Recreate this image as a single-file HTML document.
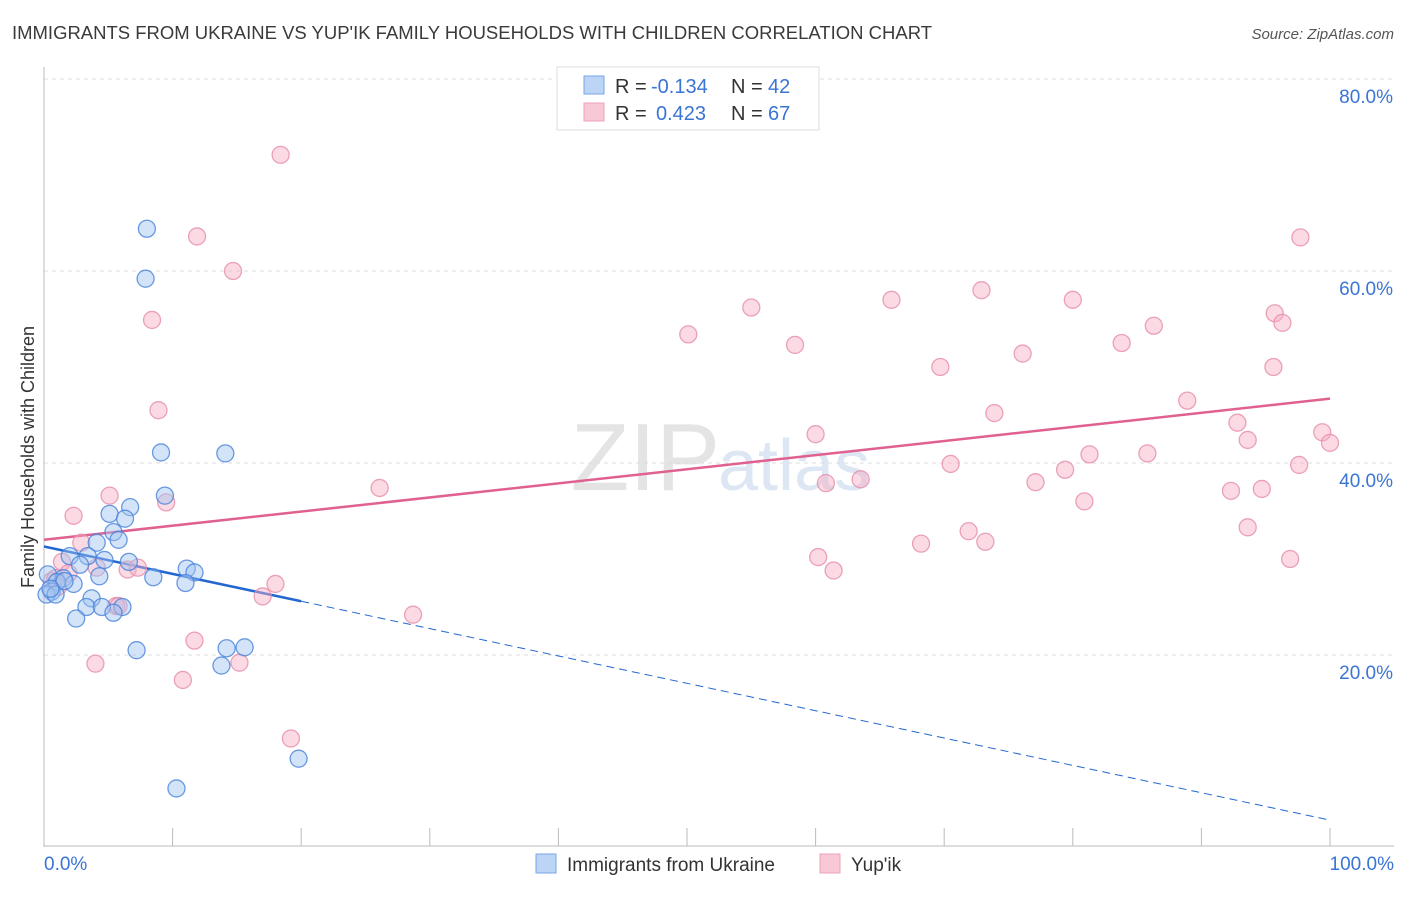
<!DOCTYPE html>
<html><head><meta charset="utf-8"><style>
body{margin:0;background:#fff;font-family:"Liberation Sans",sans-serif}
svg text{font-family:"Liberation Sans",sans-serif}
</style></head><body>
<svg id="chart" width="1406" height="892" xmlns="http://www.w3.org/2000/svg">
<text x="12" y="39" font-size="18" fill="#3a3a3a" textLength="920" lengthAdjust="spacingAndGlyphs">IMMIGRANTS FROM UKRAINE VS YUP'IK FAMILY HOUSEHOLDS WITH CHILDREN CORRELATION CHART</text>
<text x="1394" y="39" font-size="15" fill="#555" font-style="italic" text-anchor="end">Source: ZipAtlas.com</text>
<text transform="translate(34,457) rotate(-90)" font-size="18" fill="#333" text-anchor="middle">Family Households with Children</text>
<text x="720" y="490" font-size="96" fill="#e4e4e4" text-anchor="end" font-family="Liberation Serif">ZIP</text>
<text x="718" y="490" font-size="72" fill="#dde6f3">atlas</text>
<g id="grid"></g><g id="axes"></g><g id="lines"></g><g id="pts"></g>
<g>
<rect x="557" y="67" width="262" height="63" fill="#fff" stroke="#ddd"/>
<rect x="584" y="76" width="20" height="18" fill="#bcd4f5" stroke="#7aa6e6"/>
<text x="615" y="93" font-size="20" fill="#333">R =</text>
<text x="651" y="93" font-size="20" fill="#3a74d4">-0.134</text>
<text x="731" y="93" font-size="20" fill="#333">N =</text>
<text x="768" y="93" font-size="20" fill="#3a74d4">42</text>
<rect x="584" y="103" width="20" height="18" fill="#f9c8d6" stroke="#eda1b7"/>
<text x="615" y="120" font-size="20" fill="#333">R =</text>
<text x="656" y="120" font-size="20" fill="#3a74d4">0.423</text>
<text x="731" y="120" font-size="20" fill="#333">N =</text>
<text x="768" y="120" font-size="20" fill="#3a74d4">67</text>
</g>
<g>
<rect x="536" y="854" width="20" height="19" fill="#bcd4f5" stroke="#7aa6e6"/>
<text x="567" y="871" font-size="19" fill="#333">Immigrants from Ukraine</text>
<rect x="820" y="854" width="20" height="19" fill="#f9c8d6" stroke="#eda1b7"/>
<text x="851" y="871" font-size="19" fill="#333">Yup'ik</text>
</g>
</svg>
<script>
const yTicks=[20,40,60,80];
const xTickLabels=["0.0%","100.0%"];
const blueX=[8,7.9,9.1,14.1,9.4,6.7,5.1,6.3,5.4,5.8,4.1,2.0,3.4,4.7,6.6,2.8,4.3,8.5,1.5,0.3,1.0,2.3,0.6,0.2,0.9,11.1,11.7,11.0,3.7,3.3,4.5,6.1,5.4,2.5,7.2,14.2,15.6,13.8,19.8,10.3,1.6,0.5];
const blueY=[64.4,59.2,41.1,41.0,36.6,35.4,34.7,34.2,32.8,32.0,31.7,30.3,30.3,29.9,29.7,29.4,28.2,28.1,28.0,28.4,27.6,27.4,26.6,26.3,26.3,29.0,28.6,27.5,25.9,25.0,25.0,25.0,24.4,23.8,20.5,20.7,20.8,18.9,9.2,6.1,27.7,26.9];
const pinkX=[18.4,11.9,14.7,8.4,8.9,5.1,9.5,2.3,2.9,1.4,4.1,6.5,7.3,1.9,0.6,1.1,5.6,5.8,18.0,17.0,28.7,11.7,4.0,15.2,10.8,19.2,26.1,50.1,55.0,58.4,60.0,60.2,60.8,61.4,63.5,65.9,68.2,69.7,70.5,71.9,72.9,73.2,73.9,76.1,77.1,79.4,80.0,80.9,81.3,83.8,85.8,86.3,88.9,92.3,92.8,93.6,93.6,94.7,95.7,96.3,95.6,97.6,96.9,97.7,99.4,100,0.9];
const pinkY=[72.1,63.6,60.0,54.9,45.5,36.6,35.9,34.5,31.7,29.7,29.1,28.9,29.1,28.5,27.7,27.1,25.1,25.1,27.4,26.1,24.2,21.5,19.1,19.2,17.4,11.3,37.4,53.4,56.2,52.3,43.0,30.2,37.9,28.8,38.3,57.0,31.6,50.0,39.9,32.9,58.0,31.8,45.2,51.4,38.0,39.3,57.0,36.0,40.9,52.5,41.0,54.3,46.5,37.1,44.2,33.3,42.4,37.3,55.6,54.6,50.0,39.8,30.0,63.5,43.2,42.1,28.0];
const blueLine=[31.3,2.8], blueSolidEnd=20;
const pinkLine=[32.0,46.7];
const X=v=>44+v*12.86, Y=v=>847-v*9.6;
const NS="http://www.w3.org/2000/svg";
function mk(p,t,a){const e=document.createElementNS(NS,t);for(const k in a)e.setAttribute(k,a[k]);document.getElementById(p).appendChild(e);return e;}
yTicks.forEach(t=>{
 const g=mk('grid','line',{x1:44,x2:1394,y1:Y(t),y2:Y(t),stroke:'#ddd','stroke-dasharray':'4,4'});
 
 
 const l=mk('grid','text',{x:1393,y:Y(t)+24,'font-size':19,fill:'#3a74d4','text-anchor':'end'});l.textContent=t.toFixed(1)+'%';
 
 
});
mk('axes','line',{x1:44,x2:44,y1:67,y2:847,stroke:'#bbb'});
mk('axes','line',{x1:44,x2:1394,y1:846,y2:846,stroke:'#bbb'});
for(let i=0;i<=10;i++){mk('axes','line',{x1:X(i*10),x2:X(i*10),y1:828,y2:846,stroke:'#bbb'});}
[[0,'start',44],[1,'end',1394]].forEach(([i,a,x])=>{const t=mk('axes','text',{x:x,y:870,'font-size':19,fill:'#3a74d4','text-anchor':a});t.textContent=xTickLabels[i];
 
 });
const bl=v=>blueLine[0]+(blueLine[1]-blueLine[0])*v/100, pl=v=>pinkLine[0]+(pinkLine[1]-pinkLine[0])*v/100;
let e=mk('lines','line',{x1:X(0),y1:Y(bl(0)),x2:X(blueSolidEnd),y2:Y(bl(blueSolidEnd)),stroke:'#2467d1','stroke-width':2.5});


e=mk('lines','line',{x1:X(blueSolidEnd),y1:Y(bl(blueSolidEnd)),x2:X(100),y2:Y(bl(100)),stroke:'#2467d1','stroke-width':1,'stroke-dasharray':'8,5'});


e=mk('lines','line',{x1:X(0),y1:Y(pl(0)),x2:X(100),y2:Y(pl(100)),stroke:'#e06090','stroke-width':2.5});


pinkX.forEach((x,i)=>{const c=mk('pts','circle',{cx:X(x),cy:Y(pinkY[i]),r:8.5,fill:'rgba(246,172,195,0.45)',stroke:'rgba(230,140,170,0.8)','stroke-width':1.3});
 
 });
blueX.forEach((x,i)=>{const c=mk('pts','circle',{cx:X(x),cy:Y(blueY[i]),r:8.5,fill:'rgba(160,195,240,0.45)',stroke:'rgba(70,130,220,0.8)','stroke-width':1.3});
 
 });
</script>
</body></html>
